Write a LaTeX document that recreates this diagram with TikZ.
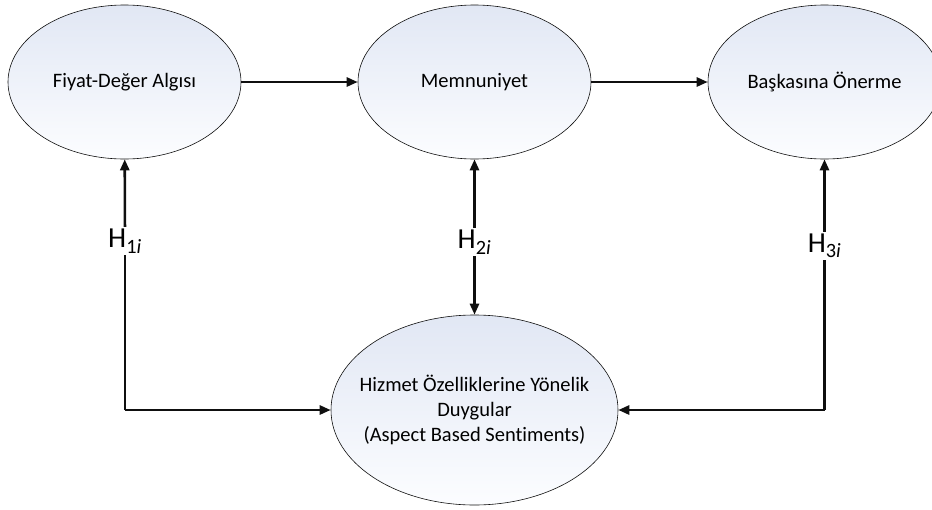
\documentclass[tikz,border=0pt]{standalone}
\usepackage{fontspec}
\setmainfont{Carlito}[Ligatures=NoCommon]
\usepackage{tikz}
\usetikzlibrary{shapes.geometric, arrows.meta, positioning}
\definecolor{mydark}{RGB}{15,15,15}
\definecolor{hdrblue}{RGB}{225,231,244}
\definecolor{hdrwhite}{RGB}{252,253,255}
\tikzset{
  construct/.style={ellipse, draw=mydark, line width=0.6pt,
    top color=hdrblue, bottom color=hdrwhite, align=center,
    minimum width=233pt, minimum height=154pt, inner sep=0pt,
    font=\fontsize{20.5}{25}\selectfont},
  hyp/.style={inner sep=2pt, font=\fontsize{29}{30}\selectfont},
  arrow/.style={-{Triangle[length=11pt,width=9pt]}, line width=2.6pt, color=mydark},
  line/.style={line width=2.6pt, color=mydark}
}
\begin{document}
\begin{tikzpicture}[x=1pt, y=-1pt]
  \useasboundingbox (0,0) rectangle (932,509);
  \node[construct] (fiyat) at (124.5,82) {Fiyat-De\u{g}er Alg\i s\i};
  \node[construct] (memnun) at (474.5,82) {Memnuniyet};
  \node[construct] (oneri) at (824.5,82) {Ba\c{s}kas\i na \"Onerme};
  \node[construct, minimum width=287pt, minimum height=190pt, inner xsep=-18pt] (duygu) at (474.5,410)
    {Hizmet \"Ozelliklerine Y\"onelik\\Duygular\\(Aspect Based Sentiments)};

  \coordinate (c1) at (125,410);
  \coordinate (c3) at (824.5,410);
  \node[hyp] (h1) at (125,241) {H\textsubscript{1\textit{i}}};
  \node[hyp] (h2) at (474.5,242) {H\textsubscript{2\textit{i}}};
  \node[hyp] (h3) at (824.5,246) {H\textsubscript{3\textit{i}}};

  \draw[arrow] (fiyat) -- (memnun);
  \draw[arrow] (memnun) -- (oneri);

  \draw[line] (c1) -- (h1);
  \draw[arrow] (h1) -- (fiyat);
  \draw[arrow] (c1) -- (duygu.west);

  \draw[arrow] (h2) -- (memnun);
  \draw[arrow] (h2) -- (duygu);

  \draw[line] (c3) -- (h3);
  \draw[arrow] (h3) -- (oneri.south);
  \draw[arrow] (c3) -- (duygu.east);
\end{tikzpicture}
\end{document}
